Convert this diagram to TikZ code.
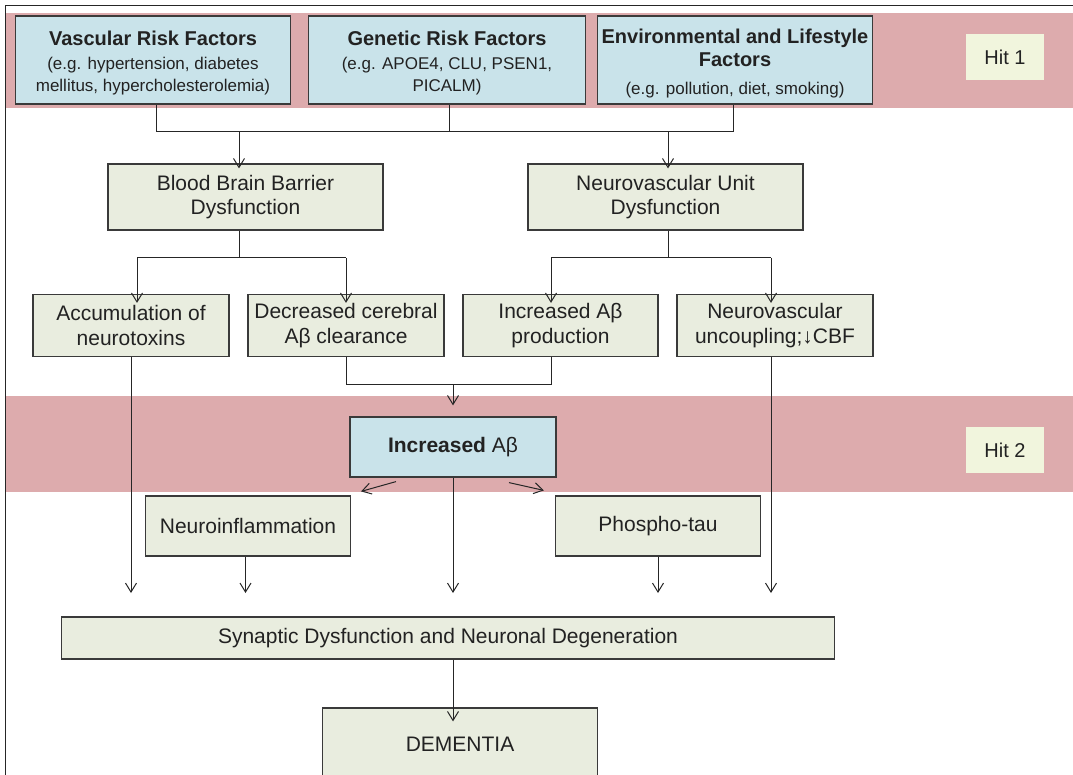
\documentclass[tikz,border=0pt]{standalone}
\usepackage{fontspec}
\setmainfont{Liberation Sans}
\usetikzlibrary{arrows.meta}
\definecolor{band}{HTML}{DDABAD}
\definecolor{bluefill}{HTML}{C9E3EA}
\definecolor{greenfill}{HTML}{E9EDDF}
\definecolor{hitfill}{HTML}{F1F5DD}
\definecolor{edge}{HTML}{3A3A3A}
\definecolor{txt}{HTML}{222222}
\newcommand{\ttl}[1]{{\fontsize{20}{24}\selectfont\bfseries #1}}
\begin{document}
\begin{tikzpicture}[x=1pt,y=-1pt,
  every node/.style={text=txt, align=center, inner sep=0pt},
  bluebox/.style={draw=edge, line width=1.2pt, fill=bluefill},
  topbox/.style={bluebox, minimum height=88pt},
  toptext/.style={font=\fontsize{17}{22.5}\selectfont},
  greenbox/.style={draw=edge, line width=1.2pt, fill=greenfill, font=\fontsize{21}{24.5}\selectfont},
  hitbox/.style={fill=hitfill, font=\fontsize{20}{24}\selectfont, minimum width=78pt, minimum height=46pt},
  conn/.style={draw=black!85, line width=1pt},
  arr/.style={conn, -{Straight Barb[length=9pt,width=11pt]}},
  bandfill/.style={fill=band, draw=none}
]
\useasboundingbox (0,0) rectangle (1073,775);
% bands
\path[bandfill] (6,13) rectangle (1073,108);
\path[bandfill] (6,396) rectangle (1073,492);
% frame
\draw[line width=1pt, black!85] (5,775) -- (5,6) -- (1073,6);

% top row
\node[topbox, minimum width=275pt] (vasc) at (153,60) {};
\node[toptext] (vascT) at ([yshift=-3pt]vasc.center)
  {\ttl{Vascular Risk Factors}\\[1.5pt]
   (e.g. hypertension, diabetes\\ mellitus, hypercholesterolemia)};
\node[topbox, minimum width=277pt] (gen) at (447,60) {};
\node[toptext] (genT) at ([yshift=-3pt]gen.center)
  {\ttl{Genetic Risk Factors}\\[1.5pt]
   (e.g. APOE4, CLU, PSEN1,\\ PICALM)};
\node[topbox, minimum width=275pt] (env) at (735,60) {};
\node[toptext] (envT) at ([yshift=-4pt]env.center)
  {\ttl{Environmental and Lifestyle}\\[0.5pt] \ttl{Factors}\\[5.5pt]
   (e.g. pollution, diet, smoking)};
\node[hitbox] (hit1) at (1005,57) {Hit 1};

% merge lines
\coordinate (j1) at (156,132);
\coordinate (j2) at (449,132);
\coordinate (j3) at (733,132);
\draw[conn] (vasc.south -| j1) -- (j1) -- (j3) -- (env.south -| j3);
\draw[conn] (gen.south -| j2) -- (j2);

% second row
\node[greenbox, minimum width=275pt, minimum height=66pt] (bbb) at (245.5,197)
  {Blood Brain Barrier\\ Dysfunction};
\node[greenbox, minimum width=275pt, minimum height=66pt] (nvu) at (665.5,197)
  {Neurovascular Unit\\ Dysfunction};
\coordinate (t1) at (239,132);
\coordinate (t2) at (668,132);
\draw[arr] (t1) -- ([yshift=-5pt]bbb.north -| t1);
\draw[arr] (t2) -- ([yshift=-5pt]nvu.north -| t2);

% third row
\node[greenbox, minimum width=196pt, minimum height=62pt] (acc) at (131,325.5)
  {Accumulation of\\ neurotoxins};
\node[greenbox, minimum width=196pt, minimum height=62pt] (dec) at (346,325.5)
  {Decreased cerebral\\ Aβ clearance};
\node[greenbox, minimum width=195pt, minimum height=62pt] (inc) at (560.5,325.5)
  {Increased Aβ\\ production};
\node[greenbox, minimum width=196pt, minimum height=62pt] (nvc) at (775,325.5)
  {Neurovascular\\ uncoupling;↓CBF};

\coordinate (b1) at (239,258);
\coordinate (b2) at (668,258);
\coordinate (bl1) at (137,258);
\coordinate (br1) at (346,258);
\coordinate (bl2) at (551,258);
\coordinate (br2) at (771,258);
\draw[conn] (bbb.south -| b1) -- (b1);
\draw[conn] (nvu.south -| b2) -- (b2);
\draw[conn] (bl1) -- (br1);
\draw[conn] (bl2) -- (br2);
\draw[arr] (bl1) -- ([yshift=-9pt]acc.north -| bl1);
\draw[arr] (br1) -- ([yshift=-9pt]dec.north -| br1);
\draw[arr] (bl2) -- ([yshift=-9pt]inc.north -| bl2);
\draw[arr] (br2) -- ([yshift=-9pt]nvc.north -| br2);

% Increased Abeta
\node[bluebox, minimum width=206pt, minimum height=60pt, font=\fontsize{21}{25}\selectfont] (iab) at (453,447)
  {\textbf{Increased} Aβ};
\node[hitbox] (hit2) at (1005,450) {Hit 2};
\coordinate (m1) at (346,384);
\coordinate (m2) at (551,384);
\coordinate (m0) at (453,384);
\draw[conn] (dec.south -| m1) -- (m1) -- (m2) -- (inc.south -| m2);
\draw[arr] (m0) -- ([yshift=11pt]iab.north);

% fourth row
\node[greenbox, minimum width=205pt, minimum height=60pt] (neu) at (248,526) {Neuroinflammation};
\node[greenbox, minimum width=205pt, minimum height=60pt] (pt) at (658,526) {Phospho-tau};
\draw[arr] ([xshift=-57pt,yshift=-4pt]iab.south) -- ([xshift=10pt,yshift=4pt]neu.north east);
\draw[arr] ([xshift=56pt,yshift=-5pt]iab.south) -- ([xshift=-11pt,yshift=5pt]pt.north west);

\node[greenbox, minimum width=773pt, minimum height=42pt] (syn) at (448,638)
  {Synaptic Dysfunction and Neuronal Degeneration};

% to synaptic
\coordinate (s1) at (131,593);
\coordinate (s2) at (245.5,593);
\coordinate (s3) at (453,593);
\coordinate (s4) at (658,593);
\coordinate (s5) at (771,593);
\draw[arr] (acc.south -| s1) -- (s1);
\draw[arr] (neu.south -| s2) -- (s2);
\draw[arr] (iab.south -| s3) -- (s3);
\draw[arr] (pt.south -| s4) -- (s4);
\draw[arr] (nvc.south -| s5) -- (s5);

\node[greenbox, minimum width=275pt, minimum height=72pt, text depth=0pt] (dem) at (460,744) {DEMENTIA};
\draw[arr] (syn.south -| s3) -- ([yshift=-14pt]dem.north -| s3);
\end{tikzpicture}
\end{document}
